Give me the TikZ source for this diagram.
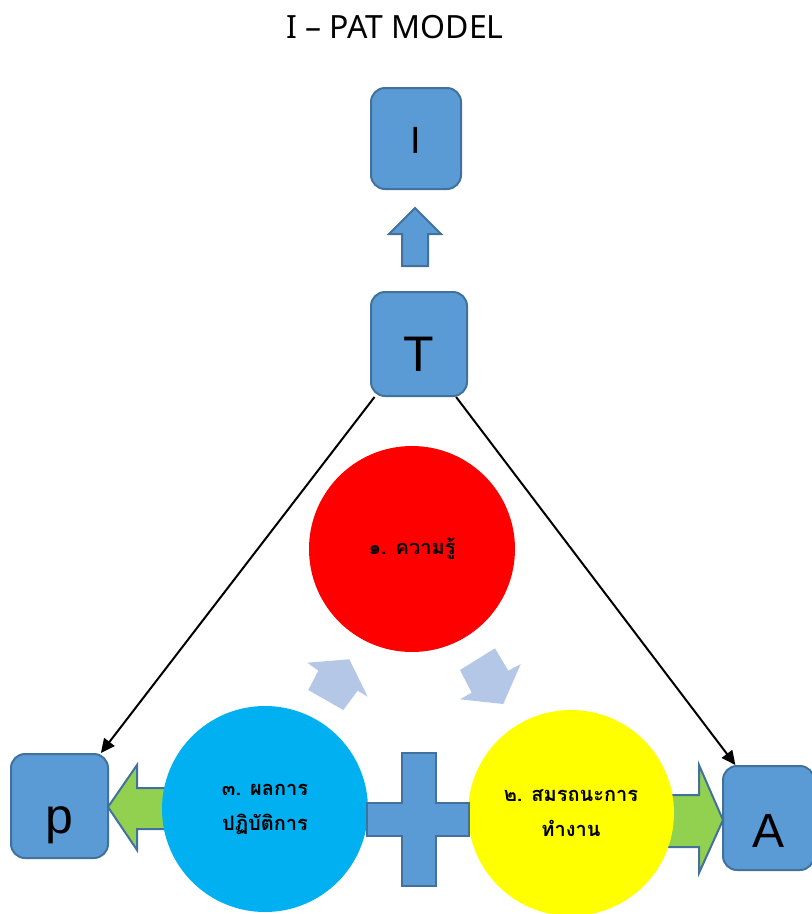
\documentclass[tikz,border=0pt]{standalone}
\usepackage{fontspec}
\usetikzlibrary{arrows.meta}
\setmainfont{Noto Sans}
\newfontfamily\thaifont[Script=Thai]{Loma}
\newfontfamily\letterfont{Liberation Sans}
\definecolor{boxfill}{HTML}{5B9BD5}
\definecolor{boxline}{HTML}{41719C}
\definecolor{paleblue}{HTML}{B4C7E7}
\definecolor{cyanball}{HTML}{00B0F0}
\definecolor{greenarrow}{HTML}{92D050}
\definecolor{yellowball}{HTML}{FFFF00}
\newcommand{\baselineat}[2]{\raisebox{-#1}[0pt][0pt]{#2}}
\tikzset{
  lettbox/.style={draw=boxline, fill=boxfill, line width=2pt, rounded corners=14pt, inner sep=0pt, font=\letterfont},
  ball/.style={circle, minimum size=206pt, inner sep=0pt, align=center, font=\thaifont\bfseries\fontsize{20}{35}\selectfont},
  blockarrow/.style={draw=boxline, line width=2pt, line join=miter},
  palearrow/.style={fill=paleblue},
  link/.style={line width=2pt, -{Triangle[length=14pt,width=13pt]}}
}
\begin{document}
\begin{tikzpicture}[x=1pt,y=-1pt]
\useasboundingbox (0,0) rectangle (812,914);
\node[font=\fontsize{32}{36}\selectfont] (title) at (395,27) {I – PAT MODEL};
% boxes
\node[lettbox, minimum width=90pt, minimum height=101pt, font=\letterfont\fontsize{38}{40}\selectfont] (I) at (416,138.5) {\baselineat{14.5pt}{I}};
\node[lettbox, minimum width=96pt, minimum height=104pt, font=\letterfont\fontsize{50}{52}\selectfont] (T) at (419,344) {\baselineat{27pt}{T}};
\node[lettbox, minimum width=97pt, minimum height=104pt, font=\letterfont\fontsize{50}{52}\selectfont] (p) at (59.5,806) {\baselineat{27pt}{p}};
\node[lettbox, minimum width=91pt, minimum height=104pt, font=\letterfont\fontsize{48}{50}\selectfont] (A) at (768.5,818) {\baselineat{29pt}{A}};
% up arrow
\draw[blockarrow, fill=boxfill] (415,208) -- (441,234) -- (428,234) -- (428,266) -- (402,266) -- (402,234) -- (389,234) -- cycle;
% connectors
\draw[link] (T.230) -- (p.52);
\draw[link] (T.305) -- (A.122);
% green arrows
\draw[blockarrow, fill=greenarrow] (108,807) -- (137,765) -- (137,788) -- (175,788) -- (175,829) -- (137,829) -- (137,850) -- cycle;
\draw[blockarrow, fill=greenarrow] (723,820) -- (699,765) -- (699,795) -- (660,795) -- (660,847) -- (699,847) -- (699,873) -- cycle;
% circles
\node[ball, fill=red] (know) at (412,549) {๑. ความรู้};
\node[ball, fill=cyanball] (perf) at (265,809) {๓. ผลการ\\ปฏิบัติการ};
\node[ball, fill=yellowball] (comp) at (571,813) {๒. สมรถนะการ\\ทำงาน};
% plus
\draw[blockarrow, fill=boxfill] (402,753) -- (436,753) -- (436,803) -- (469,803) -- (469,836) -- (436,836) -- (436,886) -- (402,886) -- (402,836) -- (367,836) -- (367,803) -- (402,803) -- cycle;
% pale cycle arrows
\fill[palearrow] (349.3,659.3) -- (367.7,696.7) -- (357.7,690.7) -- (343.3,710) -- (308.3,690) -- (318.3,670.7) -- (307.3,662.7) -- cycle;
\fill[palearrow] (460,670) -- (495,648.3) -- (508.3,670.7) -- (520.7,664) -- (503.3,704) -- (460,699.3) -- (471.7,692.7) -- cycle;
\end{tikzpicture}
\end{document}
